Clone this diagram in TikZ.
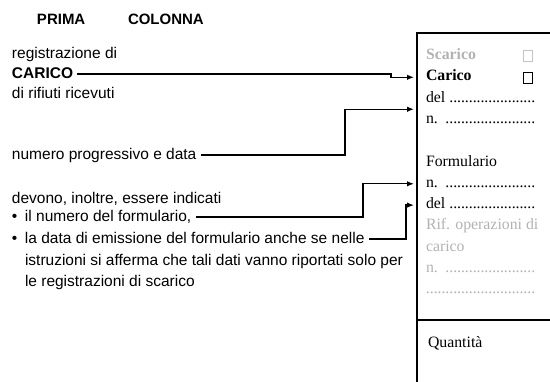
\documentclass[tikz,border=0pt]{standalone}
\usepackage{fontspec}
\setmainfont{Liberation Serif}
\setsansfont{Liberation Sans}
\usetikzlibrary{calc,positioning,arrows.meta}
\definecolor{faded}{gray}{0.7}
\newcommand{\leaderdots}{\leaders\hbox to 3.9pt{\hss.\hss}\hfill}
\newcommand{\dotrow}[1]{\hbox to 111pt{#1\leaderdots}}

\begin{document}
\begin{tikzpicture}[
  x=1pt,y=1pt,
  line width=1.3pt,
  note/.style={font=\sffamily\fontsize{15.5}{20}\selectfont,inner sep=0pt,outer sep=0pt,text height=11pt,text depth=3pt,anchor=base west},
  heading/.style={note,font=\sffamily\bfseries\fontsize{15}{20}\selectfont},
  entry/.style={font=\fontsize{15.8}{21}\selectfont,inner sep=0pt,outer sep=0pt,text height=10pt,text depth=3pt,anchor=base west},
  tick/.style={draw,line width=0.5pt,minimum width=9pt,minimum height=11pt,inner sep=0pt},
  next/.style={below=#1,anchor=north west},
  row/.style={below=8.3pt of #1.south west,anchor=north west},
  link/.style={-{Latex[length=7pt,width=5.5pt]}},
]
  \useasboundingbox (0,0) rectangle (550,-381);

  % Heading
  \node[heading] (prima) at (37,-24) {PRIMA};
  \node[heading] (colonna) at (128,-24) {COLONNA};

  % Left notes
  \node[note] (reg) at (12,-58) {registrazione di};
  \node[note,next=6pt of reg.south west] (carico) {\bfseries CARICO};
  \node[note,next=6.5pt of carico.south west] (rifiuti) {di rifiuti ricevuti};
  \node[note] (numero) at (12,-159) {numero progressivo e data};
  \node[note] (devono) at (12,-203) {devono, inoltre, essere indicati};
  \node[note,next=4pt of devono.south west] (numform) {\makebox[13pt][l]{\textbullet}il numero del formulario,};
  \node[note,next=8pt of numform.south west] (dataform) {\makebox[13pt][l]{\textbullet}la data di emissione del formulario anche se nelle};
  \node[note,next=8pt of dataform.south west,xshift=13pt] (istr) {istruzioni si afferma che tali dati vanno riportati solo per};
  \node[note,next=7.5pt of istr.south west] (lereg) {le registrazioni di scarico};

  % Form column
  \coordinate (formtop) at (417,-33);
  \draw (417,-385) -- (formtop) -- (560,-33);
  \draw[line width=2pt] (417,-320) -- (560,-320);

  \node[entry,text=faded,font=\bfseries\fontsize{15.8}{21}\selectfont] (scarico) at (426,-59.5) {Scarico};
  \node[entry,row=scarico,font=\bfseries\fontsize{15.8}{21}\selectfont] (crow) {Carico};
  \node[entry,row=crow] (del1) {\dotrow{del }};
  \node[entry,row=del1] (num1) {\dotrow{n. }};
  \node[entry,below=29.6pt of num1.south west,anchor=north west] (formul) {Formulario};
  \node[entry,row=formul] (num2) {\dotrow{n. }};
  \node[entry,row=num2] (del2) {\dotrow{del }};
  \node[entry,row=del2,text=faded] (rif) {Rif. operazioni di};
  \node[entry,row=rif,text=faded] (car) {carico};
  \node[entry,row=car,text=faded] (num3) {\dotrow{n. }};
  \node[entry,row=num3,text=faded] (dots) {\dotrow{}};
  \node[entry] (quant) at (428,-347) {Quantità};

  \node[tick,draw=faded!80] (scarbox) at ([xshift=101.5pt]scarico.west) {};
  \node[tick] (carbox) at ([xshift=101.5pt]crow.west) {};

  % Connectors
  \coordinate (gap) at ($(del1.west)!.5!(num1.west)$);
  \draw[link] ([xshift=4pt]carico.east) -| ([xshift=-26pt]formtop |- crow.west) -- ([xshift=-3pt]formtop |- crow.west);
  \draw[link] ([xshift=5pt]numero.east) -| ([xshift=-72pt]formtop |- gap) -- ([xshift=-3pt]formtop |- gap);
  \draw[link] ([xshift=5pt]numform.east) -| ([xshift=-54pt]formtop |- num2.west) -- ([xshift=-3pt]formtop |- num2.west);
  \draw[link] ([xshift=5pt]dataform.east) -| ([xshift=-11pt]formtop |- del2.west) -- ([xshift=-3pt]formtop |- del2.west);
\end{tikzpicture}
\end{document}
